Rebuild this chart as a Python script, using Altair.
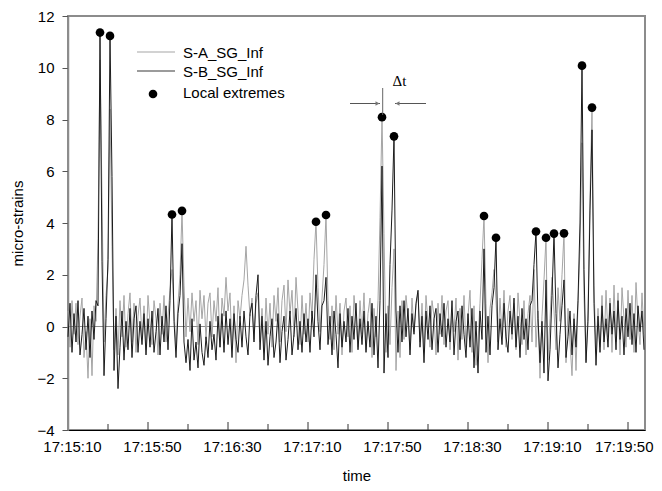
import altair as alt
import pandas as pd

# ---------------- data ----------------
series_names = ["S-A_SG_Inf", "S-B_SG_Inf"]
marker_name = "Local extremes"
time_labels = ["17:15:10", "17:15:50", "17:16:30", "17:17:10",
               "17:17:50", "17:18:30", "17:19:10", "17:19:50"]
label_ticks = [0, 40, 80, 120, 160, 200, 240, 280]          # seconds after 17:15:10
minor_ticks = [20, 60, 100, 140, 180, 220, 260]
y_ticks = [-4, -2, 0, 2, 4, 6, 8, 10, 12]

# S-A_SG_Inf, one sample per second from 17:15:10
sa = [
    0.6, -0.8, 1.0, -0.3, 0.9, -0.7, 0.4, 1.1, -1.2, -0.2,
    -2.0, 0.3, -1.9, 0.8, 0.2, 3.4, 10.3, 5.0, -0.6, 1.2,
    2.2, 8.4, 3.1, -0.9, 0.7, -1.1, 1.0, -0.4, 1.2, -0.8,
    0.5, 1.3, -0.6, 0.9, -1.0, 0.4, 1.1, -0.5, 0.8, -0.9,
    1.2, 0.1, -0.7, 1.0, 0.3, -1.1, 0.9, -0.3, 1.2, -0.6,
    0.4, 1.4, 2.2, 0.6, -0.8, 0.9, 2.0, 4.47, 1.6, -0.4,
    1.1, -0.2, 1.3, 0.2, 1.0, -0.7, 1.4, 0.3, 1.2, -0.5,
    0.9, 1.3, -0.4, 1.0, 0.2, 1.5, -0.8, 1.1, 0.4, 1.9,
    0.6, 1.3, -0.9, 0.8, -1.4, 1.0, 0.3, 1.2, 1.8, 3.1,
    1.6, 0.4, 1.1, -0.5, 0.9, 1.3, -0.6, 0.7, -1.0, 1.1,
    -0.3, 0.9, -0.8, 1.2, 0.2, 1.5, -0.6, 1.0, 1.6, -0.2,
    1.8, 0.5, 1.4, -0.4, 1.9, 0.6, -0.7, 1.2, -0.3, 0.9,
    -0.6, 1.3, 0.4, 2.6, 4.05, 1.5, -0.2, 1.1, 2.4, 4.31,
    1.0, -0.5, 0.8, -0.9, 1.2, -0.3, 0.9, -1.1, 0.6, 1.1,
    -0.4, 0.8, -1.0, 1.2, 0.2, -0.8, 1.0, -0.3, 1.3, -0.9,
    0.5, 1.1, -1.2, 0.7, -0.4, 1.0, 4.2, 8.09, 3.6, -1.0,
    0.8, -0.7, 1.5, 3.0, -1.7, 0.6, -1.2, 1.0, -0.5, 1.2,
    0.3, -0.9, 1.1, -0.2, 0.8, 1.3, -0.6, 0.9, -1.0, 1.2,
    0.1, -0.8, 1.0, 0.4, -1.1, 0.9, -0.3, 1.2, -0.7, 0.6,
    1.0, -0.9, 0.5, -0.2, 1.1, -1.3, 0.7, -0.5, 1.2, -0.8,
    0.4, 1.4, -1.0, 0.8, -1.5, -0.6, 0.9, 2.6, 4.27, 0.9,
    -1.4, 0.7, 1.3, 2.2, 1.0, -0.6, 1.1, -0.3, 1.4, -0.8,
    0.6, 1.2, -0.5, 0.9, -0.9, 1.3, 0.2, -0.7, 1.0, -1.1,
    0.5, 1.2, -0.6, 2.2, -0.8, 0.6, -2.0, 0.4, 1.8, 3.43,
    -1.3, 0.3, 1.9, 0.6, -0.9, 1.5, 0.2, 2.0, 3.6, -1.4,
    0.7, -0.6, -1.9, 0.5, -1.7, 0.9, 3.0, 7.1, 1.2, -1.3,
    0.6, 5.0, 8.46, 1.6, -1.0, 0.7, -0.8, 1.2, -0.9, 1.4,
    -0.4, 1.1, -1.0, 1.6, -0.6, 1.3, -1.1, 1.5, 0.3, -0.8,
    1.4, -0.5, 1.2, -1.0, 1.7, 0.2, -0.7, 1.3, -0.3,
]

# S-B_SG_Inf, one sample per second from 17:15:10
sb = [
    -0.4, 0.9, -1.0, 0.5, -0.6, 1.0, -1.1, -0.3, 0.7, -0.9,
    0.4, -1.2, 0.6, -0.5, 1.0, 0.8, 11.36, 2.5, -1.9, 0.3,
    2.6, 11.23, 5.8, -1.7, 0.4, -2.4, -0.8, 0.6, -1.3, 0.2,
    -0.9, 0.7, -1.2, 0.3, 0.8, -1.0, 0.2, -0.7, 0.5, -1.1,
    0.3, -0.8, 0.6, -1.0, -0.2, 0.7, -1.1, 0.4, -0.6, 0.8,
    -0.9, 1.0, 4.33, 0.2, -1.2, 0.5, 1.2, 3.2, -0.6, -1.4,
    -0.5, -1.7, 0.3, -1.3, -0.6, -1.6, 0.1, -1.0, -1.5, -0.4,
    -1.2, 0.2, -0.9, -0.3, -1.3, 0.4, -0.8, 0.5, -1.0, 0.6,
    -0.7, 0.3, -1.2, 0.5, -0.5, -1.0, 0.4, -0.8, 0.6, -0.4,
    -1.1, 0.5, 0.9, -0.6, 1.2, 2.0, -0.9, 0.4, -1.3, 0.2,
    -1.5, -0.4, 0.3, -1.2, -0.6, 0.5, -1.4, -0.2, 0.4, -1.3,
    -0.5, 0.6, -1.1, -0.3, 0.7, -0.9, 0.2, -1.0, 0.5, -0.6,
    0.3, -1.0, 0.6, -0.4, 2.0, 0.2, -0.9, 0.8, 1.0, 1.9,
    -0.7, 0.4, -1.1, 0.6, -0.3, -1.6, 0.5, -0.8, 0.2, -0.6,
    0.7, -1.0, 0.4, -0.5, 0.9, -0.9, 0.3, -0.7, 0.6, -1.0,
    0.2, -0.8, 0.9, -1.1, 0.4, -1.6, 1.0, 6.2, -1.8, 0.5,
    -1.2, 2.4, 4.5, 7.35, 0.6, -1.0, 0.8, -0.6, 1.0, -0.4,
    0.7, -1.1, 0.5, -0.3, 0.9, 1.4, -0.8, 0.4, -1.4, 0.6,
    -0.5, 0.8, -0.9, 0.3, 0.7, -1.0, 0.5, -0.4, 0.9, -0.8,
    0.3, -0.6, 1.0, -1.1, 0.2, 0.6, -0.9, 0.8, -0.3, -1.2,
    0.5, -0.8, 0.7, -1.6, 0.2, -1.8, 0.6, -0.5, 3.0, -1.0,
    0.4, -1.1, 0.8, 1.5, 3.43, -0.9, 0.3, -0.7, 0.9, -0.4,
    -1.0, 0.6, -0.3, 1.1, -0.8, 0.4, -1.2, 0.7, -0.5, 0.3,
    -0.9, 0.8, 1.0, 2.4, 3.67, 0.3, -1.4, 0.2, -1.8, 1.8,
    -2.1, -0.9, 1.2, 3.59, 0.5, -1.6, -0.3, 0.8, 1.8, -1.2,
    -0.4, 0.6, -1.1, 0.3, -0.8, 1.0, 4.0, 10.08, 2.2, -1.4,
    0.2, 4.5, 7.6, 0.9, -1.5, 0.4, -1.0, 0.8, -0.6, 0.3,
    -0.8, 0.9, -0.3, 0.6, -0.9, 1.0, -0.5, 0.4, -1.1, 0.7,
    -0.4, 0.9, -0.7, 0.5, -1.0, 0.8, -0.2, 0.6, -0.9,
]

# local extremes (seconds after 17:15:10, micro-strains)
peak_t = [16, 21, 52, 57, 124, 129, 157, 163, 208, 214, 234, 239, 243, 248, 257, 262]
peak_v = [11.36, 11.23, 4.33, 4.47, 4.05, 4.31, 8.09, 7.35, 4.27, 3.43,
          3.67, 3.43, 3.59, 3.6, 10.08, 8.46]

# ---------------- tables ----------------
lines_df = pd.DataFrame({
    "t": list(range(len(sa))) + list(range(len(sb))),
    "v": sa + sb,
    "series": [series_names[0]] * len(sa) + [series_names[1]] * len(sb),
})
peaks_df = pd.DataFrame({"t": peak_t, "v": peak_v})
major_df = pd.DataFrame({"t": label_ticks[1:]})
minor_df = pd.DataFrame({"t": minor_ticks})
one = pd.DataFrame({"a": [0]})

GREY_A = "#a5a5a5"
DARK_B = "#1c1c1c"
FRAME = "#8c8c8c"
FONT = "Liberation Sans"

W, H = 577, 414
TOP = -2  # legend/annotation offsets measured from a 14px top; plot starts at 16
xscale = alt.Scale(domain=[0, 288.5], nice=False, zero=False)
yscale = alt.Scale(domain=[-4, 12], nice=False, zero=False)

label_array = "[" + ",".join("'" + s + "'" for s in time_labels) + "]"
last_tick = label_ticks[-1]

x_axis = alt.Axis(values=label_ticks, labelExpr=label_array + "[round(datum.value/40)]",
                  ticks=False, tickSize=0, labelPadding=9,
                  labelOffset=alt.ExprRef(expr=f"datum.value >= {last_tick} ? 25 : 4"),
                  labelAlign=alt.ExprRef(expr=f"datum.value >= {last_tick} ? 'right' : 'center'"),
                  domainColor="black", domainWidth=1, title="time", titlePadding=14,
                  labelFlush=False, labelOverlap=False)
y_axis = alt.Axis(values=y_ticks, tickSize=6, tickColor="#555555", tickWidth=1,
                  domainColor=FRAME, domainWidth=1.5, labelPadding=8,
                  title="micro-strains", titlePadding=11)

X = alt.X("t:Q", scale=xscale, axis=x_axis, title="time")
Y = alt.Y("v:Q", scale=yscale, axis=y_axis, title="micro-strains")

zero_line = alt.Chart(one).mark_rule(color=FRAME, strokeWidth=1).encode(
    y=alt.datum(0, scale=yscale, axis=y_axis, title="micro-strains"))

lines = alt.Chart(lines_df).mark_line(strokeWidth=1, interpolate="linear").encode(
    x=X, y=Y,
    color=alt.Color("series:N", scale=alt.Scale(domain=series_names, range=[GREY_A, DARK_B]),
                    legend=None),
    order=alt.Order("t:Q"),
)

peaks = alt.Chart(peaks_df).mark_circle(size=75, color="black", opacity=1).encode(x=X, y=Y)

major_ticks_layer = alt.Chart(major_df).mark_rule(color="#333333", strokeWidth=1).encode(
    x=X, y=alt.value(H), y2=alt.value(H - 8))
minor_ticks_layer = alt.Chart(minor_df).mark_rule(color="#333333", strokeWidth=1).encode(
    x=X, y=alt.value(H), y2=alt.value(H - 6))

# legend (drawn by hand, like the original)
leg_a = alt.Chart(one).mark_rule(color=GREY_A, strokeWidth=1).encode(
    x=alt.value(69), x2=alt.value(107), y=alt.value(38 + TOP))
leg_b = alt.Chart(one).mark_rule(color="#7a7a7a", strokeWidth=1.3).encode(
    x=alt.value(69), x2=alt.value(107), y=alt.value(57 + TOP))
leg_dot = alt.Chart(one).mark_circle(size=75, color="black", opacity=1).encode(
    x=alt.value(85), y=alt.value(80 + TOP))
leg_txt_a = alt.Chart(one).mark_text(text=series_names[0], align="left", baseline="middle",
                                     font=FONT, fontSize=15, color="black").encode(
    x=alt.value(115), y=alt.value(39 + TOP))
leg_txt_b = alt.Chart(one).mark_text(text=series_names[1], align="left", baseline="middle",
                                     font=FONT, fontSize=15, color="black").encode(
    x=alt.value(115), y=alt.value(58 + TOP))
leg_txt_m = alt.Chart(one).mark_text(text=marker_name, align="left", baseline="middle",
                                     font=FONT, fontSize=15, color="black").encode(
    x=alt.value(115), y=alt.value(79 + TOP))

# delta-t annotation
dt_vline = alt.Chart(one).mark_rule(color="#666666", strokeWidth=1).encode(
    x=alt.value(314.7), y=alt.value(74 + TOP), y2=alt.value(101 + TOP))
dt_left = alt.Chart(one).mark_rule(color="#555555", strokeWidth=1).encode(
    x=alt.value(282), x2=alt.value(312), y=alt.value(89.5 + TOP))
dt_right = alt.Chart(one).mark_rule(color="#555555", strokeWidth=1).encode(
    x=alt.value(327), x2=alt.value(358), y=alt.value(89.5 + TOP))
dt_head_l = alt.Chart(one).mark_point(shape="triangle-right", size=22, filled=True,
                                      color="#777777", opacity=1).encode(
    x=alt.value(309.5), y=alt.value(89.5 + TOP))
dt_head_r = alt.Chart(one).mark_point(shape="triangle-left", size=22, filled=True,
                                      color="#777777", opacity=1).encode(
    x=alt.value(329.5), y=alt.value(89.5 + TOP))
dt_text = alt.Chart(one).mark_text(text="\u0394t", align="center", baseline="middle",
                                   font="Liberation Serif", fontSize=15, color="black").encode(
    x=alt.value(331.5), y=alt.value(67 + TOP))

chart = alt.layer(
    zero_line, lines, peaks, major_ticks_layer, minor_ticks_layer,
    leg_a, leg_b, leg_dot, leg_txt_a, leg_txt_b, leg_txt_m,
    dt_vline, dt_left, dt_right, dt_head_l, dt_head_r, dt_text,
).properties(
    width=W, height=H,
    autosize=alt.AutoSizeParams(type="none"),
    padding={"left": 60, "top": 8, "right": 9, "bottom": 53},
    background="white",
).configure_view(
    stroke=FRAME, strokeWidth=2,
).configure_axis(
    labelFont=FONT, titleFont=FONT, labelFontSize=15, titleFontSize=15,
    titleFontWeight="normal", labelColor="black", titleColor="black", grid=False,
)

chart.save("out.html", embed_options={"renderer": "svg", "actions": False})
